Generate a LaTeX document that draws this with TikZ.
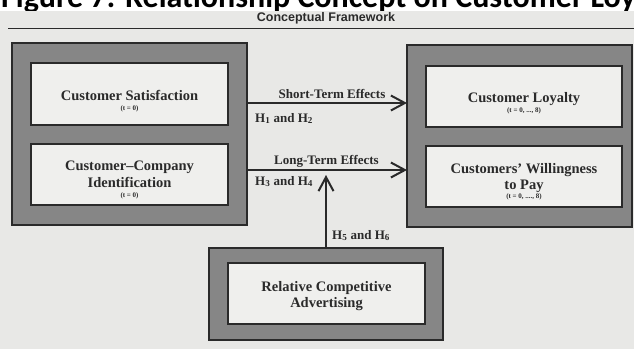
\documentclass[tikz,border=0pt]{standalone}
\usepackage{fontspec}
\setmainfont{Liberation Serif}
\newfontfamily\arialfont{Liberation Sans}
\newfontfamily\calfont{Carlito}
\usetikzlibrary{arrows.meta}
\definecolor{paper}{HTML}{E8E8E6}
\definecolor{frame}{HTML}{868686}
\definecolor{innerfill}{HTML}{EFEFED}
\definecolor{ink}{HTML}{2A2A2A}
\begin{document}
\begin{tikzpicture}[x=1pt,y=-1pt,
 outerbox/.style={draw=ink, line width=1.3pt, fill=frame, inner sep=0pt, outer sep=0pt},
 innerbox/.style={draw=ink, line width=1.8pt, fill=innerfill, inner sep=0pt, outer sep=0pt},
 maintext/.style={font=\bfseries\fontsize{14.5}{16}\selectfont, text=ink, anchor=base, inner sep=0pt},
 smalltext/.style={font=\bfseries\fontsize{7}{8}\selectfont, text=ink, anchor=base, inner sep=0pt},
 labtext/.style={font=\bfseries\fontsize{13}{14}\selectfont, text=ink, anchor=base, inner sep=0pt},
 conn/.style={draw=ink, line width=2pt, -{Straight Barb[length=14pt,width=15pt,line width=2pt]}}]
\useasboundingbox (0,0) rectangle (634,349);
\clip (0,0) rectangle (634,349);
\fill[white] (0,0) rectangle (634,349);
% heading (cut off at top, partly hidden by the scanned panel)
\begin{scope}
\clip (0,0) rectangle (634,11);
\node[anchor=base west, inner sep=0pt, font=\calfont\bfseries\fontsize{32}{34}\selectfont] (fig) at (1,7) {Figure 7: Relationship Concept on Customer Loyalty};
\end{scope}
\fill[paper] (0,11) rectangle (634,349);
% panel title
\node[anchor=base, inner sep=0pt, text=ink, font=\arialfont\bfseries\fontsize{12.5}{14}\selectfont] (title) at (326,21) {Conceptual Framework};
\coordinate (rl) at (8,28.5);
\coordinate (rr) at (634,28.5);
\draw[ink, line width=1.5pt] (rl) -- (rr);
% left group
\node[outerbox, minimum width=235pt, minimum height=182pt] (lout) at (129.5,134) {};
\node[innerbox, minimum width=197pt, minimum height=62pt] (sat) at (129.5,94) {};
\node[innerbox, minimum width=197pt, minimum height=61pt] (cci) at (129.5,174.5) {};
\node[maintext] at (129.5,100) {Customer Satisfaction};
\node[smalltext] at (129.5,110) {(t = 0)};
\node[maintext] at (129.5,170) {Customer–Company};
\node[maintext] at (129.5,187) {Identification};
\node[smalltext] at (129.5,197) {(t = 0)};
% right group
\node[outerbox, minimum width=225pt, minimum height=182pt] (rout) at (519.5,136) {};
\node[innerbox, minimum width=196pt, minimum height=61pt] (loy) at (524,96.5) {};
\node[innerbox, minimum width=196pt, minimum height=61pt] (wtp) at (524,176.5) {};
\node[maintext] at (524,102) {Customer Loyalty};
\node[smalltext] at (524,112) {(t = 0, ..., 8)};
\node[maintext] at (524,173) {Customers’ Willingness};
\node[maintext] at (524,189) {to Pay};
\node[smalltext] at (524,198) {(t = 0, ...., 8)};
% bottom group
\node[outerbox, minimum width=234pt, minimum height=92pt] (bout) at (326,294) {};
\node[innerbox, minimum width=197pt, minimum height=61pt] (rca) at (326.5,293.5) {};
\node[maintext] at (326.5,291) {Relative Competitive};
\node[maintext] at (326.5,307) {Advertising};
% connectors
\coordinate (s0) at (lout.east |- 0,103);
\coordinate (s1) at (rout.west |- 0,103);
\coordinate (l0) at (lout.east |- 0,170);
\coordinate (l1) at (rout.west |- 0,170);
\coordinate (v1) at (bout.north |- 0,175);
\draw[conn] (s0) -- (s1);
\draw[conn] (l0) -- (l1);
\draw[conn] (bout.north) -- (v1);
% labels
\node[labtext] at (332,98) {Short-Term Effects};
\node[labtext, anchor=base west] at (255,122) {H\textsubscript{1} and H\textsubscript{2}};
\node[labtext] at (326.5,164) {Long-Term Effects};
\node[labtext, anchor=base west] at (255,185) {H\textsubscript{3} and H\textsubscript{4}};
\node[labtext, anchor=base west] at (332,239) {H\textsubscript{5} and H\textsubscript{6}};
\end{tikzpicture}
\end{document}
